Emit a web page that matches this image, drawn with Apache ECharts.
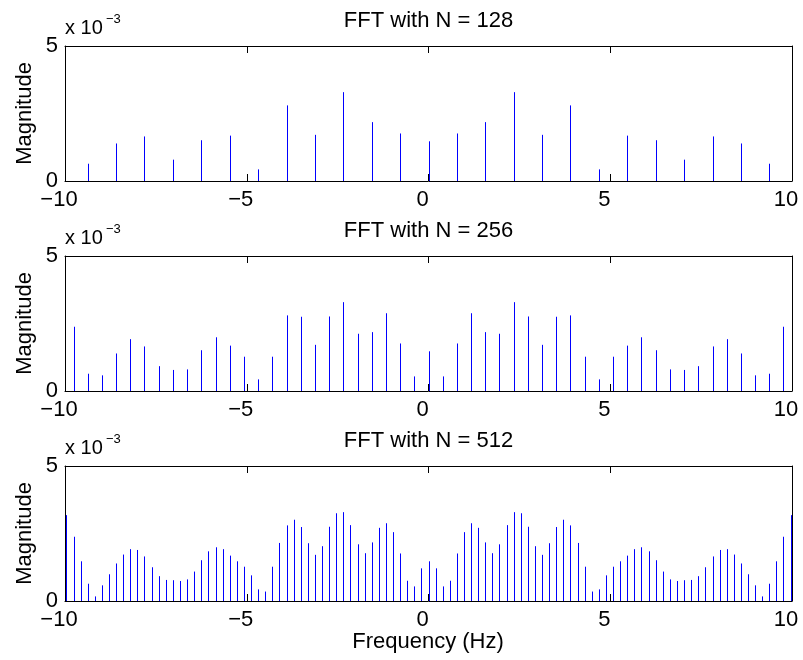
<!DOCTYPE html>
<html>
<head>
<meta charset="utf-8">
<script src="https://cdn.jsdelivr.net/npm/echarts@6/dist/echarts.min.js"></script>
<style>html,body{margin:0;padding:0;background:#fff}#c{width:803px;height:660px}</style>
</head>
<body>
<div id="c"></div>
<script>
// Titles
const titles = ['FFT with N = 128', 'FFT with N = 256', 'FFT with N = 512'];
const xTicks = [-10, -5, 0, 5, 10];
const yTicks = [0, 5];

// N = 128 (frequencies in Hz, magnitudes in units of 1e-3)
const freq128 = [-9.375,-8.594,-7.813,-7.031,-6.250,-5.469,-4.688,-3.906,-3.125,-2.344,-1.563,-0.781,0,
  0.781,1.563,2.344,3.125,3.906,4.688,5.469,6.250,7.031,7.813,8.594,9.375];
const mag128 = [0.64,1.39,1.65,0.79,1.51,1.68,0.43,2.80,1.71,3.29,2.18,1.76,1.47,
  1.76,2.18,3.29,1.71,2.80,0.43,1.68,1.51,0.79,1.65,1.39,0.64];

// N = 256
const freq256 = [-9.766,-9.375,-8.984,-8.594,-8.203,-7.813,-7.422,-7.031,-6.641,-6.250,-5.859,-5.469,-5.078,
  -4.688,-4.297,-3.906,-3.516,-3.125,-2.734,-2.344,-1.953,-1.563,-1.172,-0.781,-0.391,0,
  0.391,0.781,1.172,1.563,1.953,2.344,2.734,3.125,3.516,3.906,4.297,4.688,5.078,5.469,5.859,
  6.250,6.641,7.031,7.422,7.813,8.203,8.594,8.984,9.375,9.766];
const mag256 = [2.38,0.64,0.58,1.39,1.92,1.65,0.92,0.78,0.80,1.51,1.99,1.68,1.27,
  0.43,1.27,2.80,2.75,1.71,2.76,3.29,2.12,2.18,2.88,1.76,0.54,1.47,
  0.54,1.76,2.88,2.18,2.12,3.29,2.76,1.71,2.75,2.80,1.27,0.43,1.27,1.68,1.99,
  1.51,0.80,0.78,0.92,1.65,1.92,1.39,0.58,0.64,2.38];

// N = 512
const freq512 = [-9.961,-9.766,-9.570,-9.375,-9.180,-8.984,-8.789,-8.594,-8.398,-8.203,-8.008,-7.813,-7.617,
  -7.422,-7.227,-7.031,-6.836,-6.641,-6.445,-6.250,-6.055,-5.859,-5.664,-5.469,-5.273,-5.078,-4.883,
  -4.688,-4.492,-4.297,-4.102,-3.906,-3.711,-3.516,-3.320,-3.125,-2.930,-2.734,-2.539,-2.344,-2.148,
  -1.953,-1.758,-1.563,-1.367,-1.172,-0.977,-0.781,-0.586,-0.391,-0.195,0,
  0.195,0.391,0.586,0.781,0.977,1.172,1.367,1.563,1.758,1.953,2.148,2.344,2.539,2.734,2.930,3.125,
  3.320,3.516,3.711,3.906,4.102,4.297,4.492,4.688,4.883,5.078,5.273,5.469,5.664,5.859,6.055,6.250,
  6.445,6.641,6.836,7.031,7.227,7.422,7.617,7.813,8.008,8.203,8.398,8.594,8.789,8.984,9.180,9.375,
  9.570,9.766,9.961];
const mag512 = [3.18,2.38,1.47,0.64,0.17,0.58,0.99,1.39,1.72,1.92,1.89,1.65,1.25,0.92,0.78,0.77,0.74,
  0.80,1.09,1.51,1.84,1.99,1.92,1.68,1.47,1.27,0.95,0.43,0.35,1.27,2.15,2.80,3.01,2.74,2.14,1.71,
  2.03,2.75,3.25,3.29,2.81,2.10,1.77,2.17,2.71,2.88,2.55,1.76,0.75,0.54,1.21,1.47,
  1.21,0.54,0.75,1.76,2.55,2.88,2.71,2.17,1.77,2.10,2.81,3.29,3.25,2.75,2.03,1.71,2.14,2.74,3.01,
  2.80,2.15,1.27,0.35,0.43,0.95,1.27,1.47,1.68,1.92,1.99,1.84,1.51,1.09,0.80,0.74,0.77,0.78,0.92,
  1.25,1.65,1.89,1.92,1.72,1.39,0.99,0.58,0.17,0.64,1.47,2.38,3.18];

const FONT = "'Liberation Sans', Arial, Helvetica, sans-serif";
const chart = echarts.init(document.getElementById('c'), null, {renderer: 'canvas'});

const panels = [[freq128, mag128], [freq256, mag256], [freq512, mag512]];
const GL = 65, GW = 727, GH = 135, TOP0 = 46, STEP = 210;

const grid = [], xAxis = [], yAxis = [], series = [], graphic = [];
const fmt = v => (v < 0 ? '\u2212' + Math.abs(v) : String(v));

panels.forEach((p, i) => {
  const top = TOP0 + STEP * i;
  grid.push({left: GL, top: top, width: GW, height: GH, show: false});
  const baseX = {
    gridIndex: i, type: 'value', min: xTicks[0], max: xTicks[xTicks.length - 1], interval: 5,
    splitLine: {show: false},
    axisLine: {show: true, onZero: false, lineStyle: {color: '#000', width: 1}},
    axisTick: {show: true, inside: true, length: 7, lineStyle: {color: '#000'}}
  };
  xAxis.push(Object.assign({}, baseX, {
    position: 'bottom',
    axisLabel: {show: true, fontSize: 22, fontFamily: FONT, color: '#000', margin: 8,
      showMinLabel: true, showMaxLabel: true, formatter: fmt, padding: [0, 12, 0, 0]}
  }));
  xAxis.push(Object.assign({}, baseX, {position: 'top', axisLabel: {show: false}}));
  const baseY = {
    gridIndex: i, type: 'value', min: yTicks[0], max: yTicks[1], interval: 5,
    splitLine: {show: false},
    axisLine: {show: true, onZero: false, lineStyle: {color: '#000', width: 1}},
    axisTick: {show: true, inside: true, length: 7, lineStyle: {color: '#000'}}
  };
  yAxis.push(Object.assign({}, baseY, {
    position: 'left',
    axisLabel: {show: true, fontSize: 22, fontFamily: FONT, color: '#000', margin: 7,
      showMinLabel: true, showMaxLabel: true}
  }));
  yAxis.push(Object.assign({}, baseY, {position: 'right', axisLabel: {show: false}}));

  series.push({
    type: 'custom',
    xAxisIndex: 2 * i, yAxisIndex: 2 * i,
    data: p[0].map((f, j) => [f, p[1][j]]),
    clip: true,
    renderItem: function (params, api) {
      const a = api.coord([api.value(0), 0]);
      const b = api.coord([api.value(0), api.value(1)]);
      const x = Math.round(a[0]) + 0.5;
      return {type: 'line', shape: {x1: x, y1: a[1], x2: x, y2: b[1]},
        style: {stroke: '#0000ff', lineWidth: 1}};
    }
  });

  graphic.push({type: 'text', x: 428.5, y: 20.5 + STEP * i,
    style: {text: titles[i], fontSize: 22, fontFamily: FONT, fill: '#000', align: 'center', verticalAlign: 'middle'}});
  graphic.push({type: 'text', x: 25, y: 113.5 + STEP * i, rotation: Math.PI / 2,
    style: {text: 'Magnitude', fontSize: 22, fontFamily: FONT, fill: '#000', align: 'center', verticalAlign: 'middle'}});
  graphic.push({type: 'text', x: 65, y: 28 + STEP * i,
    style: {text: 'x 10', fontSize: 20, fontFamily: FONT, fill: '#000', align: 'left', verticalAlign: 'middle'}});
  graphic.push({type: 'text', x: 106, y: 19 + STEP * i,
    style: {text: '\u22123', fontSize: 13, fontFamily: FONT, fill: '#000', align: 'left', verticalAlign: 'middle'}});
});

graphic.push({type: 'text', x: 428, y: 642,
  style: {text: 'Frequency (Hz)', fontSize: 22, fontFamily: FONT, fill: '#000', align: 'center', verticalAlign: 'middle'}});

chart.setOption({
  backgroundColor: '#fff',
  animation: false,
  grid: grid, xAxis: xAxis, yAxis: yAxis, series: series, graphic: graphic
});
</script>
</body>
</html>
